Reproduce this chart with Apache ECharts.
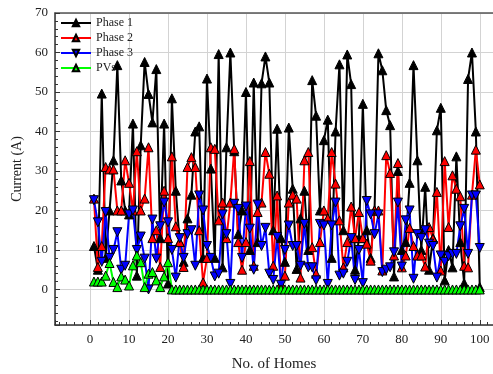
<!DOCTYPE html>
<html>
<head>
<meta charset="utf-8">
<script src="https://cdn.jsdelivr.net/npm/echarts@6/dist/echarts.min.js"></script>
<style>
  html, body { margin: 0; padding: 0; background: #fff; }
  #chart { width: 493px; height: 374px; }
</style>
</head>
<body>
<div id="chart"></div>
<script>
const homes = [1,2,3,4,5,6,7,8,9,10,11,12,13,14,15,16,17,18,19,20,
  21,22,23,24,25,26,27,28,29,30,31,32,33,34,35,36,37,38,39,40,
  41,42,43,44,45,46,47,48,49,50,51,52,53,54,55,56,57,58,59,60,
  61,62,63,64,65,66,67,68,69,70,71,72,73,74,75,76,77,78,79,80,
  81,82,83,84,85,86,87,88,89,90,91,92,93,94,95,96,97,98,99,100];

const phase1 = [11,5,49.6,8,20,32.7,56.8,27.6,20,19,
  42,3.5,36.5,57.6,49.5,42.3,55.8,13,42,1.5,
  48.4,25,12,7,18,24,40,41.3,8,53.4,
  30.6,8,59.6,5.6,36,60,35,14,20,50,
  10,52.4,12,52.2,59,52.4,15,40.7,13,7,
  41,25.5,5.2,18,25,10,53,44,20,37.8,
  43,8,40,57,15,59.5,52,5,13,47,
  15,8,20,59.8,55.5,45.4,41.6,3.3,30,10,
  12,27,56.8,32.7,10,26,5,13,40.3,46,
  2.3,10,5.6,33.7,12,1.6,53.3,60,40,0.6];

const phase2 = [23,5.7,11,31,30.4,30.4,20,20,32.7,27,
  20,35,20,23,36,13,15,5.7,25,13,
  33.7,16,12,5.7,31,33.5,31,15,1.8,8,
  36,35.6,17.5,22,13,22,35.6,12,5,12,
  32.5,6,19.6,22,34.8,29.3,6,23.8,1.4,3.5,
  22,24,23,3,32.7,34.8,10.7,4,12,20,
  18,34.8,26.8,17.5,5.6,12,21,13,19.6,13,
  11.6,7.3,20,20,4.8,34,29.5,8.6,32,5.6,
  8.6,15.6,11,8.6,8.6,5.8,15.8,12.8,24.7,4.8,
  32.5,15.8,28.9,25.5,23.6,6,5.6,24,35.4,26.6];

const phase3 = [22.6,17,7,19.6,8,10,14.5,5,6,19,
  20,10,13.4,7.8,0,17.7,7.8,16,22,17,
  10,3,13,8,14,15,6,23.8,20,11,
  8,3.3,4,19,14,1.4,21.7,20.4,8,21,
  15.4,5,21.5,11,15.6,4,2.4,13.3,1.2,10,
  16.2,11,11,6,16.6,5.6,5.6,2.3,16.6,16.2,
  1.4,16.2,22,3.5,4,7,13,2.4,10,1.6,
  22.4,19,14,19,4.4,5,5.6,9.4,22,5.8,
  17.5,20,2.7,14,13,15,11.6,11,3,8.6,
  7,8.4,9,9,16,20.4,9,23.8,23.8,10.5];

const pvs = [2,2,2,3.5,6.7,1.9,0.6,3.3,2.5,1,
  6.1,8.6,6.9,0.6,4,4.4,2.3,0.6,3.3,6.9,
  0,0,0,0,0,0,0,0,0,0,0,0,0,0,0,0,0,0,0,0,
  0,0,0,0,0,0,0,0,0,0,0,0,0,0,0,0,0,0,0,0,
  0,0,0,0,0,0,0,0,0,0,0,0,0,0,0,0,0,0,0,0,
  0,0,0,0,0,0,0,0,0,0,0,0,0,0,0,0,0,0,0,0];

const xTickLabels = [0,10,20,30,40,50,60,70,80,90,100];
const yTickLabels = [0,10,20,30,40,50,60,70];

const font = 'Liberation Serif';
const pairs = (ys) => homes.map((h, i) => [h, ys[i]]);

function lineSeries(name, ys, color, rotate) {
  return {
    name: name,
    type: 'line',
    data: pairs(ys),
    symbol: 'triangle',
    symbolSize: 9,
    symbolRotate: rotate,
    lineStyle: { color: color, width: 2 },
    itemStyle: { color: color, borderColor: '#000', borderWidth: 1 },
    emphasis: { disabled: true }
  };
}

const chart = echarts.init(document.getElementById('chart'), null, { renderer: 'canvas' });
chart.setOption({
  animation: false,
  backgroundColor: '#fff',
  grid: { left: 55, right: 0, top: 13, bottom: 49, outerBoundsMode: 'none', containLabel: false },
  legend: {
    orient: 'vertical', left: 60, top: 16, padding: 0,
    itemWidth: 30, itemHeight: 8, itemGap: 1,
    textStyle: { fontFamily: font, fontSize: 12, lineHeight: 14, color: '#222' },
    data: ['Phase 1', 'Phase 2', 'Phase 3', 'PVs']
  },
  xAxis: [{
    type: 'value', min: -9, max: 103.4, splitNumber: 11, minInterval: 10, maxInterval: 10,
    name: 'No. of Homes', nameLocation: 'middle', nameGap: 32,
    nameTextStyle: { fontFamily: font, fontSize: 15, color: '#222' },
    axisLine: { onZero: false, lineStyle: { color: '#333', width: 1.5 } },
    axisTick: { inside: true, length: 5, lineStyle: { color: '#333' } },
    minorTick: { show: true, splitNumber: 5, length: 3, lineStyle: { color: '#333' } },
    axisLabel: {
      fontFamily: font, fontSize: 13, color: '#222', margin: 8,
      showMinLabel: false, showMaxLabel: false,
      formatter: v => xTickLabels.includes(v) ? String(v) : ''
    },
    splitLine: { show: true, lineStyle: { color: '#d3d3d3', width: 1 } }
  }, {
    type: 'value', min: -9, max: 103.4, position: 'top',
    axisLine: { show: true, onZero: false, lineStyle: { color: '#555', width: 1.5 } },
    axisTick: { show: false }, axisLabel: { show: false }, splitLine: { show: false }
  }],
  yAxis: {
    type: 'value', min: -9, max: 70, splitNumber: 8, minInterval: 10, maxInterval: 10,
    name: 'Current (A)', nameLocation: 'middle', nameGap: 30,
    nameTextStyle: { fontFamily: font, fontSize: 14, color: '#222' },
    axisLine: { show: true, onZero: false, lineStyle: { color: '#333', width: 1.5 } },
    axisTick: { inside: true, length: 5, lineStyle: { color: '#333' } },
    minorTick: { show: true, splitNumber: 5, length: 3, lineStyle: { color: '#333' } },
    axisLabel: {
      fontFamily: font, fontSize: 13, color: '#222', margin: 7,
      showMinLabel: false,
      formatter: v => yTickLabels.includes(v) ? String(v) : ''
    },
    splitLine: { show: true, lineStyle: { color: '#d3d3d3', width: 1 } }
  },
  series: [
    lineSeries('Phase 1', phase1, '#000000', 0),
    lineSeries('Phase 2', phase2, '#ff0000', 0),
    lineSeries('Phase 3', phase3, '#0000ff', 180),
    lineSeries('PVs', pvs, '#00ff00', 0)
  ]
});
</script>
</body>
</html>
